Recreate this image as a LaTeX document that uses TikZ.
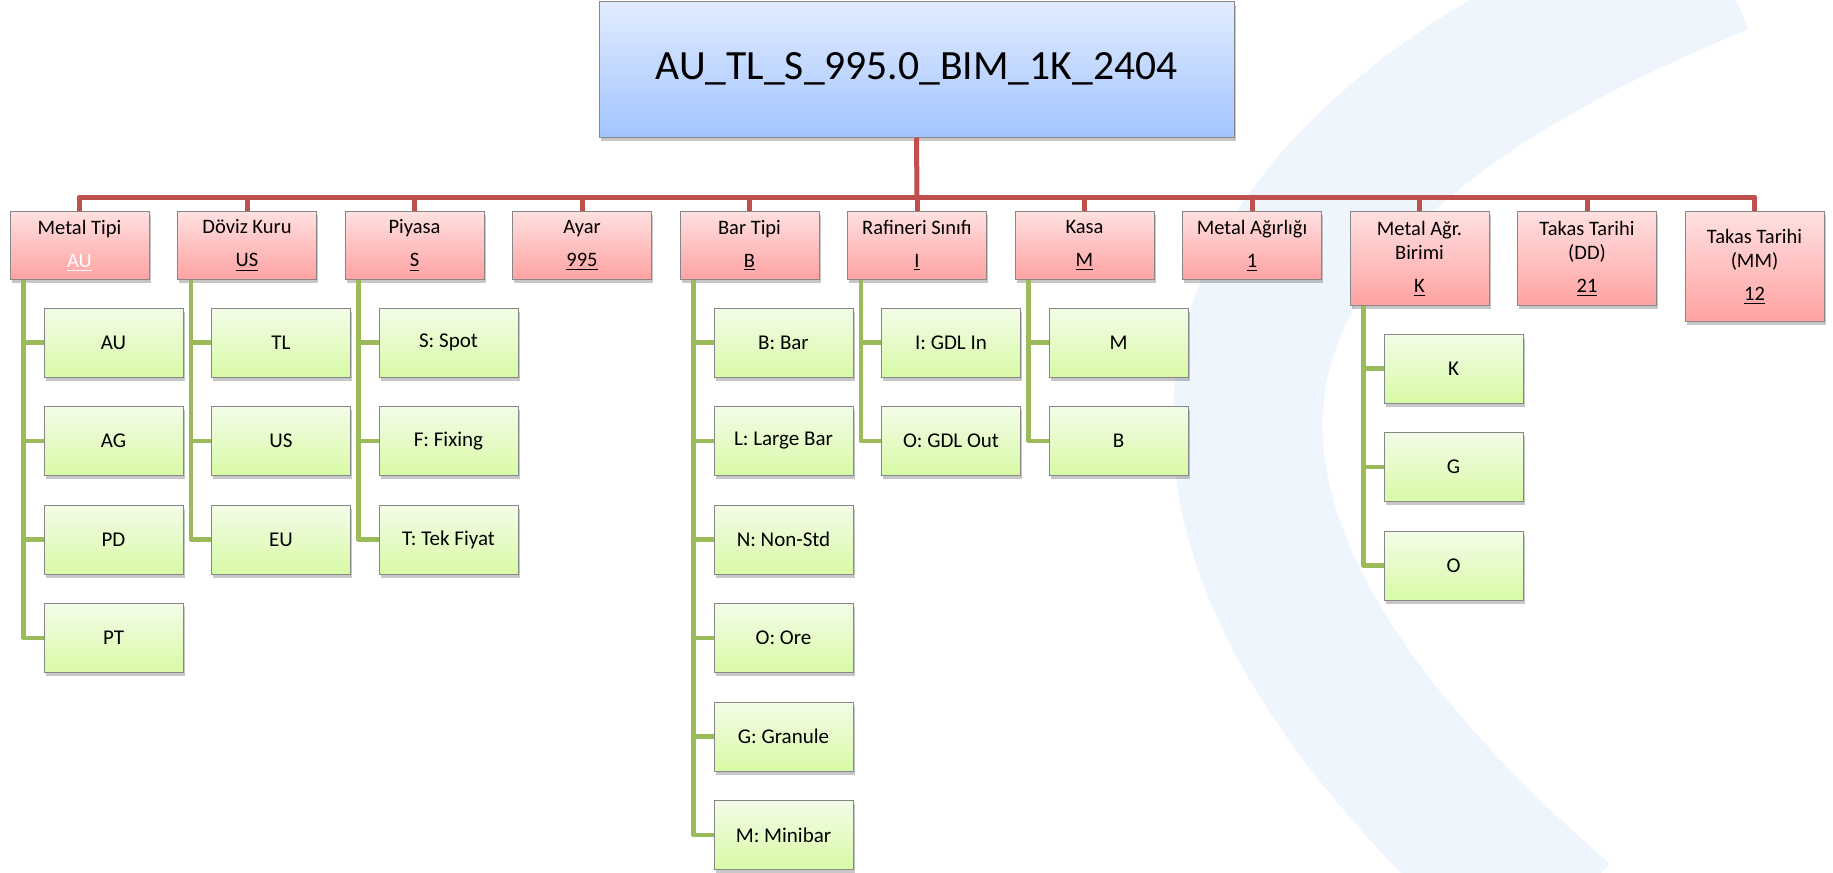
\documentclass[tikz,border=0pt]{standalone}
\usepackage{fontspec}
\setmainfont{Carlito}
\usetikzlibrary{shadows}
\definecolor{busred}{RGB}{192,80,77}
\definecolor{leggreen}{RGB}{155,187,89}
\definecolor{boxgray}{RGB}{135,135,135}
\definecolor{bluetop}{RGB}{226,236,255}
\definecolor{bluebot}{RGB}{162,196,255}
\definecolor{pinktop}{RGB}{255,224,224}
\definecolor{pinkbot}{RGB}{255,162,162}
\definecolor{limetop}{RGB}{243,252,232}
\definecolor{limebot}{RGB}{216,250,166}
\definecolor{swooshblue}{RGB}{239,245,252}

\begin{document}
\begin{tikzpicture}[
    x=0.5pt, y=-0.5pt,
    box_shadow/.style={drop shadow={shadow xshift=0.8pt, shadow yshift=-1.8pt, opacity=0.22, fill=black}},
    main_node/.style={rectangle, draw=boxgray, line width=0.5pt, top color=bluetop, bottom color=bluebot,
        minimum width=317.5pt, minimum height=68pt, inner sep=0pt, box_shadow,
        font=\fontsize{20.8}{24}\selectfont},
    field_node/.style={rectangle, draw=boxgray, line width=0.5pt, top color=pinktop, bottom color=pinkbot,
        minimum width=69.5pt, minimum height=34pt, inner sep=0pt, anchor=north, align=center, box_shadow,
        font=\fontsize{10.25}{12}\selectfont},
    option_node/.style={rectangle, draw=boxgray, line width=0.5pt, top color=limetop, bottom color=limebot,
        minimum width=69.5pt, minimum height=34.5pt, inner sep=0pt, box_shadow,
        font=\fontsize{10.5}{12.5}\selectfont},
    bus_line/.style={busred, line width=2.5pt, line join=round},
    leg_line/.style={leggreen, line width=2.3pt, line join=round}
]
    % page and faint watermark
    \useasboundingbox (0,0) rectangle (1833,873);
    \fill[white] (0,0) rectangle (1833,873);
    \begin{scope}
        \clip (0,0) rectangle (1833,873);
        \draw[swooshblue, line width=75pt] (1720,-40) .. controls (1250,150) and (1020,450) .. (1560,920);
    \end{scope}

    \node[main_node] (kod) at (916.5,69) {AU\_TL\_S\_995.0\_BIM\_1K\_2404};

    \node[field_node] (tipi) at (79.5,211) {Metal Tipi\\[4.5pt]\textcolor{white}{\underline{AU}}};
    \node[field_node] (doviz) at (247,211) {Döviz Kuru\\[4.5pt]\underline{US}};
    \node[field_node] (piyasa) at (414.5,211) {Piyasa\\[4.5pt]\underline{S}};
    \node[field_node] (ayar) at (582,211) {Ayar\\[4.5pt]\underline{995}};
    \node[field_node] (bartipi) at (749.5,211) {Bar Tipi\\[4.5pt]\underline{B}};
    \node[field_node] (rafineri) at (917,211) {Rafineri Sınıfı\\[4.5pt]\underline{I}};
    \node[field_node] (kasa) at (1084.5,211) {Kasa\\[4.5pt]\underline{M}};
    \node[field_node] (agirlik) at (1252,211) {Metal Ağırlığı\\[4.5pt]\underline{1}};
    \node[field_node, minimum height=47pt] (birim) at (1419.5,211) {Metal Ağr.\\Birimi\\[4.5pt]\underline{K}};
    \node[field_node, minimum height=47pt] (gun) at (1587,211) {Takas Tarihi\\(DD)\\[4.5pt]\underline{21}};
    \node[field_node, minimum height=55pt] (ay) at (1754.5,211) {Takas Tarihi\\(MM)\\[4.5pt]\underline{12}};

    \node[option_node] (tipiAU) at (113.5,342.5) {AU};
    \node[option_node] (tipiAG) at (113.5,441) {AG};
    \node[option_node] (tipiPD) at (113.5,539.5) {PD};
    \node[option_node] (tipiPT) at (113.5,638) {PT};

    \node[option_node] (dovizTL) at (281,342.5) {TL};
    \node[option_node] (dovizUS) at (281,441) {US};
    \node[option_node] (dovizEU) at (281,539.5) {EU};

    \node[option_node] (piyasaS) at (448.5,342.5) {S: Spot};
    \node[option_node] (piyasaF) at (448.5,441) {F: Fixing};
    \node[option_node] (piyasaT) at (448.5,539.5) {T: Tek Fiyat};

    \node[option_node] (barB) at (783.5,342.5) {B: Bar};
    \node[option_node] (barL) at (783.5,441) {L: Large Bar};
    \node[option_node] (barN) at (783.5,539.5) {N: Non-Std};
    \node[option_node] (barO) at (783.5,638) {O: Ore};
    \node[option_node] (barG) at (783.5,736.5) {G: Granule};
    \node[option_node] (barM) at (783.5,835) {M: Minibar};

    \node[option_node] (rafI) at (951,342.5) {I: GDL In};
    \node[option_node] (rafO) at (951,441) {O: GDL Out};

    \node[option_node] (kasaM) at (1118.5,342.5) {M};
    \node[option_node] (kasaB) at (1118.5,441) {B};

    \node[option_node] (birimK) at (1453.5,368.5) {K};
    \node[option_node] (birimG) at (1453.5,467) {G};
    \node[option_node] (birimO) at (1453.5,565.5) {O};

    % red bus from the code to every field
    \coordinate (bus) at (917,197);
    \draw[bus_line] (kod.south) -- (bus);
    \draw[bus_line] (tipi.north) -- (tipi.north |- bus) -- (ay.north |- bus) -- (ay.north);
    \draw[bus_line] (doviz.north) -- (doviz.north |- bus);
    \draw[bus_line] (piyasa.north) -- (piyasa.north |- bus);
    \draw[bus_line] (ayar.north) -- (ayar.north |- bus);
    \draw[bus_line] (bartipi.north) -- (bartipi.north |- bus);
    \draw[bus_line] (rafineri.north) -- (rafineri.north |- bus);
    \draw[bus_line] (kasa.north) -- (kasa.north |- bus);
    \draw[bus_line] (agirlik.north) -- (agirlik.north |- bus);
    \draw[bus_line] (birim.north) -- (birim.north |- bus);
    \draw[bus_line] (gun.north) -- (gun.north |- bus);

    % green legs to the options
    \draw[leg_line] (tipiAU.west) -| ([xshift=7pt]tipi.south west);
    \draw[leg_line] (tipiAG.west) -| ([xshift=7pt]tipi.south west);
    \draw[leg_line] (tipiPD.west) -| ([xshift=7pt]tipi.south west);
    \draw[leg_line] (tipiPT.west) -| ([xshift=7pt]tipi.south west);
    \draw[leg_line] (dovizTL.west) -| ([xshift=7pt]doviz.south west);
    \draw[leg_line] (dovizUS.west) -| ([xshift=7pt]doviz.south west);
    \draw[leg_line] (dovizEU.west) -| ([xshift=7pt]doviz.south west);
    \draw[leg_line] (piyasaS.west) -| ([xshift=7pt]piyasa.south west);
    \draw[leg_line] (piyasaF.west) -| ([xshift=7pt]piyasa.south west);
    \draw[leg_line] (piyasaT.west) -| ([xshift=7pt]piyasa.south west);
    \draw[leg_line] (barB.west) -| ([xshift=7pt]bartipi.south west);
    \draw[leg_line] (barL.west) -| ([xshift=7pt]bartipi.south west);
    \draw[leg_line] (barN.west) -| ([xshift=7pt]bartipi.south west);
    \draw[leg_line] (barO.west) -| ([xshift=7pt]bartipi.south west);
    \draw[leg_line] (barG.west) -| ([xshift=7pt]bartipi.south west);
    \draw[leg_line] (barM.west) -| ([xshift=7pt]bartipi.south west);
    \draw[leg_line] (rafI.west) -| ([xshift=7pt]rafineri.south west);
    \draw[leg_line] (rafO.west) -| ([xshift=7pt]rafineri.south west);
    \draw[leg_line] (kasaM.west) -| ([xshift=7pt]kasa.south west);
    \draw[leg_line] (kasaB.west) -| ([xshift=7pt]kasa.south west);
    \draw[leg_line] (birimK.west) -| ([xshift=7pt]birim.south west);
    \draw[leg_line] (birimG.west) -| ([xshift=7pt]birim.south west);
    \draw[leg_line] (birimO.west) -| ([xshift=7pt]birim.south west);
\end{tikzpicture}
\end{document}
